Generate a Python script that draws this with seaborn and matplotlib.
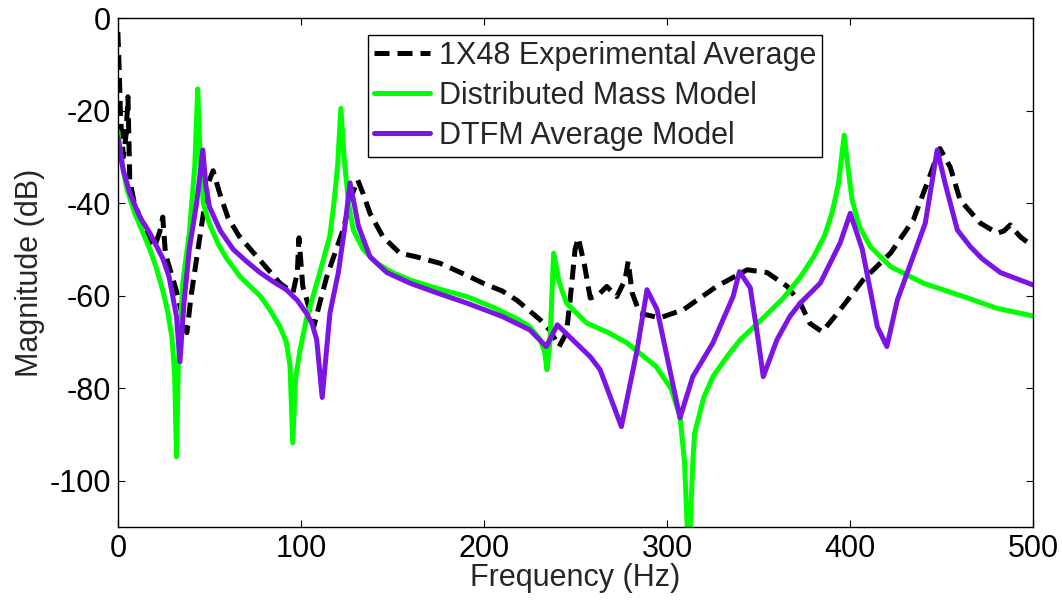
import numpy as np
import pandas as pd
import seaborn as sns
import matplotlib.pyplot as plt

# --- DATA ---
EXP_LABEL = "1X48 Experimental Average"
DM_LABEL = "Distributed Mass Model"
DTFM_LABEL = "DTFM Average Model"

exp_freq = [0, 0.8, 1.5, 3, 4.5, 5.5, 6.5, 9, 12, 16, 20, 23, 24.5, 26, 29, 32, 35, 37.7,
            40, 43, 46.4, 49, 52, 55.7, 60, 66, 76, 88.5, 95.6, 98, 98.9, 99.8, 101, 104,
            107, 110, 114, 117.5, 123, 128, 131, 134, 137.7, 144.8, 154, 163, 176, 190,
            199.5, 210, 218, 230.6, 236, 241, 245, 247, 249.7, 251.5, 255, 258, 262, 267,
            272.5, 277, 278.7, 280.9, 285, 296, 309, 327, 343.7, 354.6, 365.6, 372.7, 378,
            384.7, 393, 407, 422, 434.5, 442, 449, 454.6, 460, 471, 480.3, 484, 487.4, 490,
            493, 500]
exp_mag = [-3, -12, -22, -30, -25, -17, -35, -40, -43, -47, -49.5, -46, -43, -51, -55, -59,
           -64, -68, -60, -52, -43, -36, -33, -38, -43, -47, -51.6, -57.3, -59.4, -55, -47.5,
           -52, -58, -62, -66.7, -62, -56, -52, -45.8, -38, -35, -38, -42.2, -47.3, -50.8,
           -51.6, -53, -55.5, -57.3, -59, -61, -65.2, -67.5, -71, -68, -61, -50, -47.5,
           -53.7, -60.5, -60, -58, -60.2, -56.6, -52.6, -59.4, -63.8, -64.8, -63, -58,
           -54.4, -55, -58, -61.6, -66, -67.8, -63.8, -56.6, -50.8, -43.6, -35.7, -28.2,
           -32.2, -39.3, -44.3, -46.5, -46, -44.7, -46, -47.3, -49.4]

dm_freq = [0, 2, 5, 9, 13.7, 17.5, 21, 24.6, 27, 29.5, 31, 32, 33, 35.5, 39, 42, 43.6, 44.8,
           46.6, 50, 55, 59.5, 67, 77.6, 83, 88.5, 92, 94, 95.5, 97, 99.5, 103, 106.7, 111,
           115.8, 118, 120, 121.8, 123.5, 126, 128.6, 134, 141.5, 150, 159.6, 175, 190.6,
           205, 218, 225, 230.6, 233, 234.4, 236, 238, 241, 245, 256, 268, 278, 294, 302,
           307, 309.5, 311.8, 314, 315, 320, 325, 333, 340, 352, 363.5, 372.7, 380, 386,
           390, 393.5, 396.7, 399, 401, 405, 411, 422, 440, 462, 480, 500]
dm_mag = [-24.5, -31, -37, -42, -46.4, -50, -54, -59, -63, -69, -77, -94.8, -75, -57, -46.5,
          -32, -15.3, -28.5, -40, -44.5, -49, -52, -56, -60, -63, -66.7, -70, -75, -91.8,
          -78, -71.7, -65, -60, -54, -47, -40, -32, -19.5, -30, -40, -45.8, -50, -53, -55,
          -56.6, -58.5, -60.2, -62.5, -65, -66.7, -69.5, -72, -76, -70, -50.8, -57, -61.6,
          -65.9, -68, -70.2, -75.3, -80, -86, -96, -118, -96, -89.7, -82, -77.5, -73,
          -69.5, -65, -60.5, -56, -51.6, -47, -42.2, -36, -25.3, -33, -39.3, -45, -49.4,
          -53.7, -57.3, -60.2, -62.7, -64.4]

dtfm_freq = [0, 3, 6.6, 12, 17.5, 24.6, 28, 32, 33.9, 36, 39, 43, 46.4, 48, 50, 56, 63, 70,
             77.6, 85, 92, 98, 103, 106, 108.6, 111.6, 115.8, 120.4, 124, 126.8, 129, 131.4,
             137.7, 146.9, 159.6, 175, 190.6, 210, 225, 234, 240, 247, 258, 263.4, 275,
             283.6, 289, 294.5, 307, 314, 325, 336, 339.5, 345.4, 349.7, 352.5, 360, 367,
             372.7, 383.6, 394.5, 400, 406.6, 414.8, 420, 425.7, 441, 447.5, 452, 458.5,
             465.6, 472, 482, 500]
dtfm_mag = [-25.7, -33, -37.9, -43, -46.5, -52, -56, -64.5, -74.3, -62, -50, -40, -28.5, -36,
            -40.8, -46, -50, -52.5, -55, -57, -58.7, -61, -63.8, -66, -69.5, -82, -63.8, -55,
            -45, -35.6, -40, -45, -51.6, -55, -57.3, -59.5, -61.6, -64.5, -67.4, -71, -66.3,
            -69, -73.2, -76, -88.3, -71.7, -58.7, -63, -86.4, -77.5, -70.2, -60.2, -54.8,
            -58.3, -69.5, -77.5, -69.5, -64.5, -61.6, -57.3, -48.6, -42.2, -50, -66.7, -71,
            -61, -44.3, -28.5, -36, -45.8, -49.4, -52, -55, -57.7]

x_ticks = [0, 100, 200, 300, 400, 500]
y_ticks = [-100, -80, -60, -40, -20, 0]

# --- STYLE ---
sns.set_style("ticks")
plt.rcParams["font.family"] = ["Liberation Sans", "DejaVu Sans"]
plt.rcParams["axes.unicode_minus"] = False
plt.rcParams["xtick.direction"] = "in"
plt.rcParams["ytick.direction"] = "in"
plt.rcParams["xtick.top"] = True
plt.rcParams["ytick.right"] = True

fig, ax = plt.subplots(figsize=(10.62, 6.03), dpi=100)
fig.subplots_adjust(left=0.111, right=0.973, top=0.970, bottom=0.126)

series = [
    (exp_freq, exp_mag, EXP_LABEL, "black", (0, (3, 1.6))),
    (dm_freq, dm_mag, DM_LABEL, "#00ff00", "-"),
    (dtfm_freq, dtfm_mag, DTFM_LABEL, "#7c14e6", "-"),
]
for f, m, label, color, ls in series:
    df = pd.DataFrame({"Frequency": f, "Magnitude": m})
    sns.lineplot(data=df, x="Frequency", y="Magnitude", ax=ax, color=color,
                 linewidth=3.6, linestyle=ls, label=label, estimator=None, sort=False)

ax.set_xlim(0, 500)
ax.set_ylim(-110, 0)
ax.set_xticks(x_ticks)
ax.set_yticks(y_ticks)
ax.tick_params(labelsize=22, length=5, width=0.8, colors="black", pad=5)
ax.set_xlabel("Frequency (Hz)", fontsize=22, labelpad=-1)
ax.set_ylabel("Magnitude (dB)", fontsize=22, labelpad=3)
for s in ax.spines.values():
    s.set_linewidth(1.0)
    s.set_color("black")

leg = ax.legend(loc="upper left", bbox_to_anchor=(0.273, 0.967), fontsize=22,
                frameon=True, fancybox=False, edgecolor="black", framealpha=1,
                handlelength=1.85, handletextpad=0.28, labelspacing=0.32,
                borderpad=0.2, borderaxespad=0)
leg.get_frame().set_linewidth(1.0)

fig.savefig("out.png", dpi=100)
